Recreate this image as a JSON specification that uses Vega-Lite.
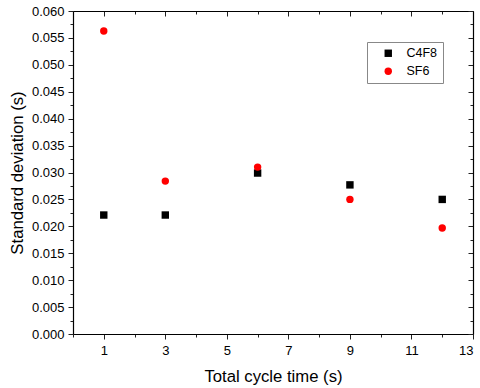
{
  "$schema": "https://vega.github.io/schema/vega-lite/v6.json",
  "autosize": {"type": "none"},
  "width": 400,
  "height": 323,
  "padding": {"left": 73, "top": 11, "right": 7, "bottom": 54},
  "background": "white",
  "config": {
    "view": {"stroke": null},
    "font": "Liberation Sans",
    "axis": {"grid": false, "domainColor": "#000", "domainWidth": 1.2, "tickColor": "#222", "tickWidth": 1, "labelColor": "#000", "titleColor": "#000", "labelFont": "Liberation Sans", "titleFont": "Liberation Sans", "titleFontWeight": "normal"}
  },
  "data": {"values": [
    {"time": 1, "sd": 0.0221, "gas": "C4F8"},
    {"time": 3, "sd": 0.0221, "gas": "C4F8"},
    {"time": 6, "sd": 0.0299, "gas": "C4F8"},
    {"time": 9, "sd": 0.0277, "gas": "C4F8"},
    {"time": 12, "sd": 0.0250, "gas": "C4F8"},
    {"time": 1, "sd": 0.0563, "gas": "SF6"},
    {"time": 3, "sd": 0.0284, "gas": "SF6"},
    {"time": 6, "sd": 0.0310, "gas": "SF6"},
    {"time": 9, "sd": 0.0250, "gas": "SF6"},
    {"time": 12, "sd": 0.0197, "gas": "SF6"}
  ]},
  "resolve": {"axis": {"x": "independent", "y": "independent"}},
  "layer": [
    {
      "mark": {"type": "point", "filled": true, "opacity": 1, "size": 55},
      "encoding": {
        "x": {"field": "time", "type": "quantitative", "scale": {"domain": [0, 13], "nice": false, "zero": false},
          "axis": {"orient": "bottom", "title": "Total cycle time (s)", "values": [0,1,2,3,4,5,6,7,8,9,10,11,12,13],
            "labelExpr": "datum.value % 2 == 1 ? datum.label : ''", "labelFontSize": 13, "labelPadding": 5,
            "tickSize": {"condition": {"test": "datum.value % 2 == 1", "value": 5}, "value": 3},
            "titleFontSize": 16.7, "titlePadding": 11}},
        "y": {"field": "sd", "type": "quantitative", "scale": {"domain": [0, 0.06], "nice": false, "zero": true},
          "axis": {"orient": "left", "title": "Standard deviation (s)", "values": [0,0.0025,0.005,0.0075,0.01,0.0125,0.015,0.0175,0.02,0.0225,0.025,0.0275,0.03,0.0325,0.035,0.0375,0.04,0.0425,0.045,0.0475,0.05,0.0525,0.055,0.0575,0.06],
            "labelExpr": "round(datum.value*10000) % 50 == 0 ? format(datum.value, '.3f') : ''", "labelFontSize": 13, "labelPadding": 4,
            "tickSize": {"condition": {"test": "round(datum.value*10000) % 50 == 0", "value": 5}, "value": 3},
            "titleFontSize": 16.7, "titlePadding": 5}},
        "color": {"field": "gas", "type": "nominal", "scale": {"domain": ["C4F8", "SF6"], "range": ["#000000", "#ff0000"]},
          "legend": {"title": null, "orient": "none", "legendX": 294, "legendY": 31, "fillColor": "white", "strokeColor": "#888", "padding": 5, "symbolOffset": 10, "labelFontSize": 12.5, "labelOffset": 12, "rowPadding": 5, "symbolSize": 55, "labelExpr": "datum.label + '   '"}},
        "shape": {"field": "gas", "type": "nominal", "scale": {"domain": ["C4F8", "SF6"], "range": ["square", "circle"]}, "legend": null}
      }
    },
    {
      "mark": {"type": "point", "opacity": 0},
      "encoding": {
        "x": {"field": "time", "type": "quantitative",
          "axis": {"orient": "top", "title": null, "labels": false, "values": [0,1,2,3,4,5,6,7,8,9,10,11,12,13],
            "tickSize": {"condition": {"test": "datum.value % 2 == 1", "value": -5}, "value": -3}}},
        "y": {"field": "sd", "type": "quantitative",
          "axis": {"orient": "right", "title": null, "labels": false, "values": [0,0.0025,0.005,0.0075,0.01,0.0125,0.015,0.0175,0.02,0.0225,0.025,0.0275,0.03,0.0325,0.035,0.0375,0.04,0.0425,0.045,0.0475,0.05,0.0525,0.055,0.0575,0.06],
            "tickSize": {"condition": {"test": "round(datum.value*10000) % 50 == 0", "value": -5}, "value": -3}}}
      }
    }
  ]
}
